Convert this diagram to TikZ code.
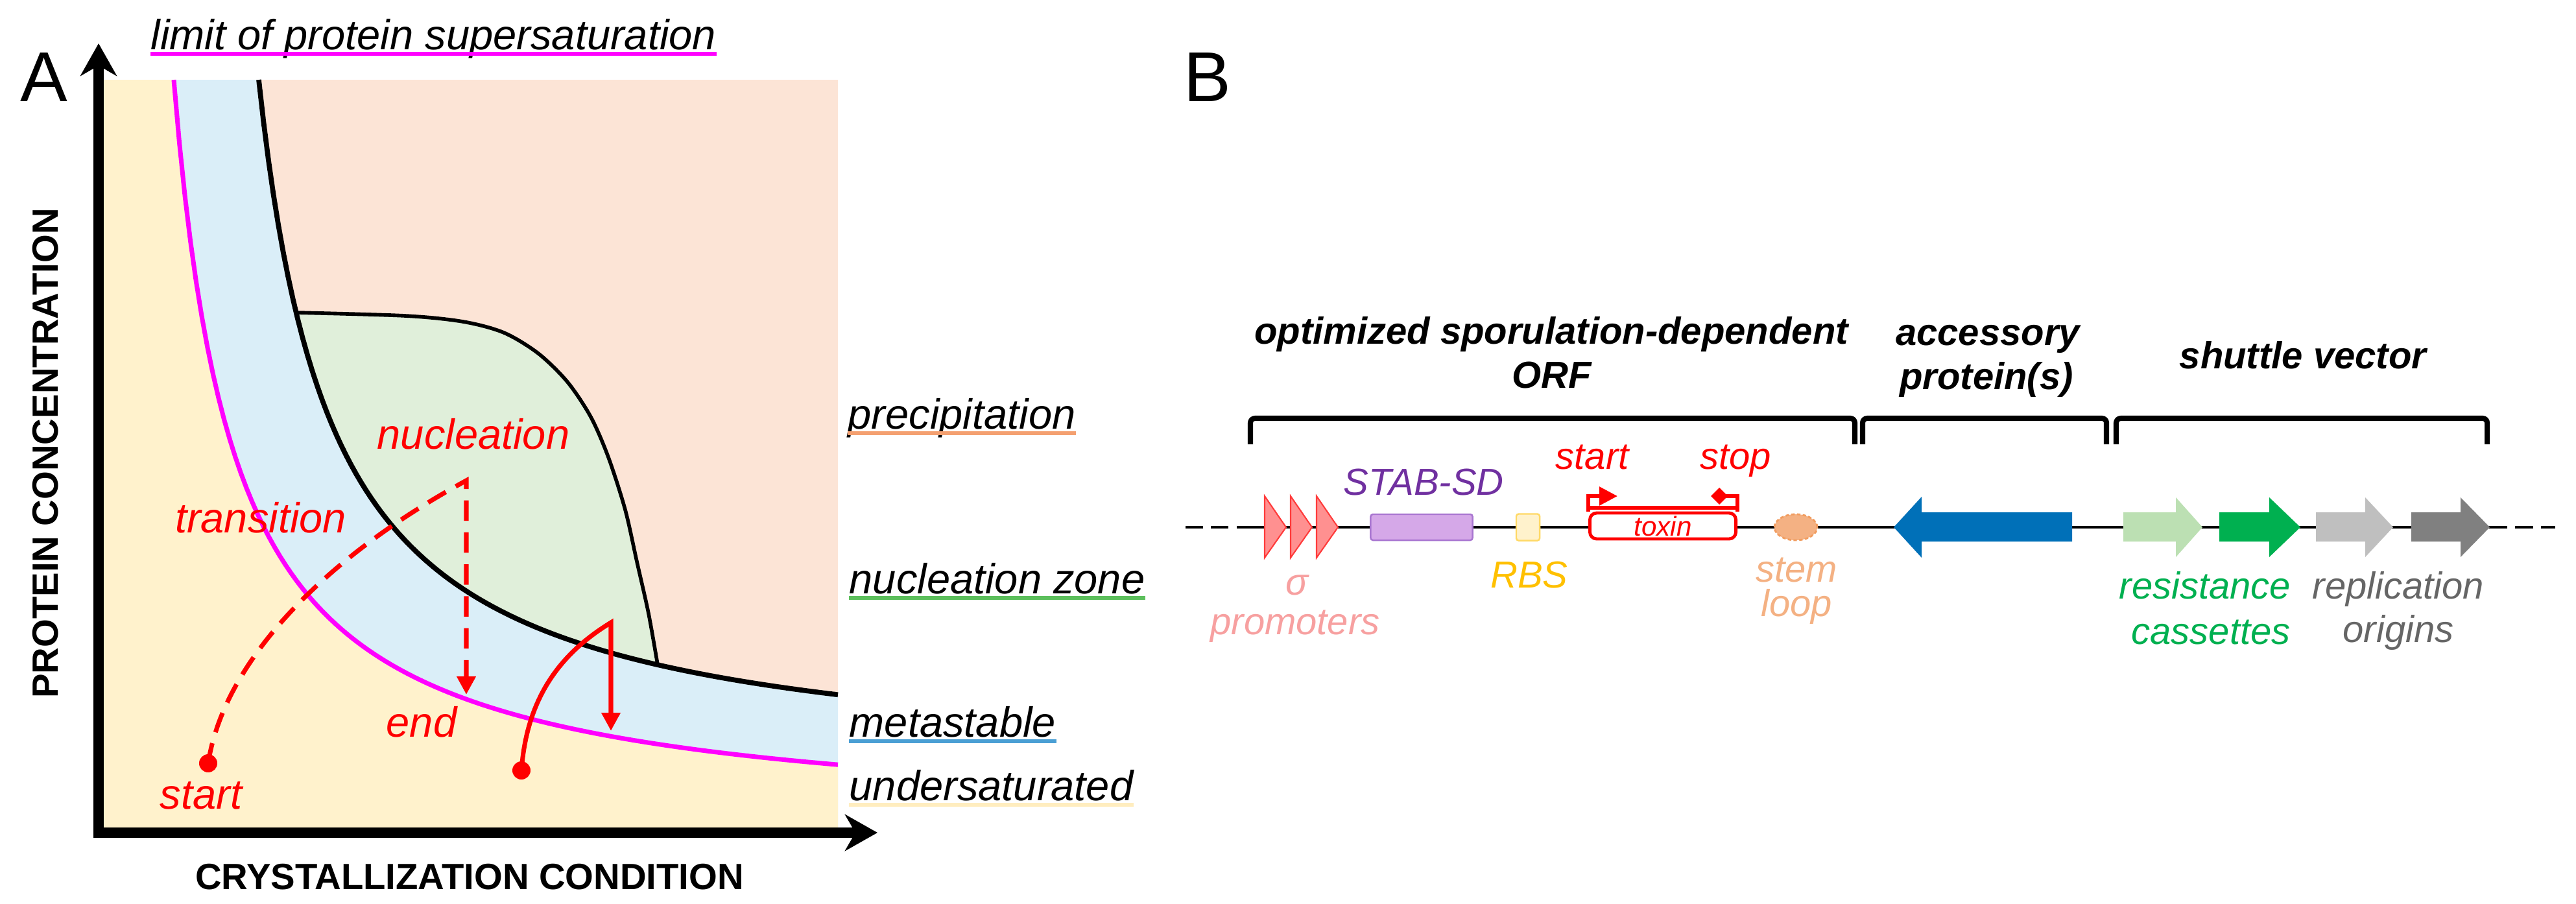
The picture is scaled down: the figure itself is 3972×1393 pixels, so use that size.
\documentclass[tikz,border=0pt]{standalone}
\usepackage{fontspec}
\setmainfont{Liberation Sans}
\usetikzlibrary{
    arrows.meta,
    calc,
    positioning,
    shapes.geometric
}

\definecolor{precfill}{HTML}{FCE4D6}
\definecolor{metafill}{HTML}{DAEEF8}
\definecolor{nuclfill}{HTML}{E0EFDA}
\definecolor{undfill}{HTML}{FFF2CC}
\definecolor{supmag}{HTML}{FF00FF}
\definecolor{precline}{HTML}{F4A070}
\definecolor{nuclline}{HTML}{5CBF5C}
\definecolor{metaline}{HTML}{4A9FD4}
\definecolor{undline}{HTML}{FFEDBF}
\definecolor{promcol}{HTML}{FF9090}
\definecolor{promedge}{HTML}{FF3B3B}
\definecolor{promtext}{HTML}{F7A0A0}
\definecolor{stabcol}{HTML}{D5A8E8}
\definecolor{stabedge}{HTML}{A875D0}
\definecolor{stabtext}{HTML}{7030A0}
\definecolor{rbsedge}{HTML}{FFD966}
\definecolor{rbstext}{HTML}{FFC000}
\definecolor{loopcol}{HTML}{F4B183}
\definecolor{loopedge}{HTML}{F19D60}
\definecolor{accblue}{HTML}{0070B8}
\definecolor{resA}{HTML}{BCE0B3}
\definecolor{resB}{HTML}{00B050}
\definecolor{oriA}{HTML}{BFBFBF}
\definecolor{oriB}{HTML}{808080}
\definecolor{oritext}{HTML}{666666}

\tikzset{
    zonelbl/.style={font=\fontsize{18.5}{20}\selectfont\itshape, inner sep=0pt, anchor=base west},
    pathlbl/.style={font=\fontsize{18.5}{20}\selectfont\itshape, text=red, inner sep=0pt, anchor=base},
    axislbl/.style={font=\fontsize{16}{18}\selectfont\bfseries, inner sep=0pt, anchor=base},
    panellbl/.style={font=\fontsize{31}{33}\selectfont, inner sep=0pt, anchor=base west},
    headlbl/.style={font=\fontsize{16.5}{18}\selectfont\bfseries\itshape, inner sep=0pt, anchor=base},
    partlbl/.style={font=\fontsize{16.5}{18}\selectfont\itshape, inner sep=0pt, anchor=base},
    uline/.style={line width=1.6pt},
    axisline/.style={line width=4.5pt, {Stealth[length=5mm,width=5.6mm,inset=1.6mm]}-{Stealth[length=5mm,width=5.6mm,inset=1.6mm]}},
    redpath/.style={red, line width=2pt, -{Triangle[length=2.8mm,width=2.8mm]}},
    rdot/.style={circle, fill=red, inner sep=0pt, minimum size=0.28cm},
    dnaline/.style={line width=1.3pt},
    dnadash/.style={line width=1.3pt, dash pattern=on 7.7pt off 3.5pt},
    brk/.style={line width=2.3pt, rounded corners=2pt},
    promoter/.style={fill=promcol, draw=promedge, line width=0.6pt},
    stabbox/.style={rectangle, rounded corners=1pt, fill=stabcol, draw=stabedge, line width=0.7pt, minimum width=1.57cm, minimum height=0.4cm, inner sep=0pt},
    rbsbox/.style={rectangle, rounded corners=1pt, fill=undfill, draw=rbsedge, line width=0.7pt, minimum width=0.36cm, minimum height=0.41cm, inner sep=0pt},
    toxbox/.style={rectangle, rounded corners=3pt, fill=white, draw=red, line width=1.4pt, minimum width=2.25cm, minimum height=0.4cm, inner sep=0pt, text=red, font=\fontsize{12}{13}\selectfont\itshape},
    redmark/.style={red, line width=1.6pt},
    loopmark/.style={ellipse, fill=loopcol, draw=loopedge, line width=0.8pt, dash pattern=on 1.5pt off 1pt, minimum width=0.66cm, minimum height=0.4cm, inner sep=0pt}
}

\begin{document}
\begin{tikzpicture}[x=0.01cm, y=-0.01cm]
    \useasboundingbox (0,0) rectangle (3972,1393);

    % panel A
    \fill[precfill] (152,123) rectangle (1292,1284);
    \fill[metafill] (152,123) -- plot[domain=399:1292,samples=120] (\x,{100*(11.923-12.19/(\x/100-2.85))}) -- (1292,1284) -- (152,1284) -- cycle;
    \fill[undfill] (152,123) -- plot[domain=268:1292,samples=120] (\x,{100*(12.751-10.7146/(\x/100-1.75))}) -- (1292,1284) -- (152,1284) -- cycle;
    \fill[nuclfill] plot[smooth] coordinates {(457,482) (625,487) (714,496) (777,513) (830,545) (875,589) (911,643) (938,705) (964,786) (982,866) (1000,946) (1014,1025)}
        -- plot[domain=1014:457,samples=60] (\x,{100*(11.923-12.19/(\x/100-2.85))}) -- cycle;
    \draw[line width=1.6pt] plot[smooth] coordinates {(457,482) (625,487) (714,496) (777,513) (830,545) (875,589) (911,643) (938,705) (964,786) (982,866) (1000,946) (1014,1025)};
    \draw[line width=2.2pt] plot[domain=399:1292,samples=120] (\x,{100*(11.923-12.19/(\x/100-2.85))});
    \draw[supmag, line width=2pt] plot[domain=268:1292,samples=120] (\x,{100*(12.751-10.7146/(\x/100-1.75))});

    \coordinate (ytip) at (152,67);
    \coordinate (origin) at (152,1284);
    \coordinate (xtip) at (1353,1284);
    \draw[axisline] (ytip) -- (origin) -- (xtip);

    \node[pathlbl] (nucl) at (730,692) {nucleation};
    \node[pathlbl] (trans) at (402,821) {transition};
    \node[pathlbl] (endl) at (650,1136) {end};
    \node[pathlbl] (startl) at (310,1247) {start};

    \node[rdot] (st1) at (321,1177) {};
    \node[rdot] (st2) at (804,1188) {};
    \coordinate (turn1) at (719,741);
    \coordinate (end1) at (719,1071);
    \coordinate (turn2) at (942,960);
    \coordinate (end2) at (942,1127);
    \draw[redpath, dash pattern=on 9pt off 5pt] (st1.center) .. controls (345,1020) and (500,860) .. (turn1) -- (end1);
    \draw[redpath] (st2.center) .. controls (812,1080) and (860,1010) .. (turn2) -- (end2);

    \node[zonelbl] (limit) at (232,76) {limit of protein supersaturation};
    \node[zonelbl] (prec) at (1307,661) {precipitation};
    \node[zonelbl] (nzone) at (1309,915) {nucleation zone};
    \node[zonelbl] (meta) at (1309,1136) {metastable};
    \node[zonelbl] (under) at (1309,1234) {undersaturated};
    \draw[uline, supmag] ([yshift=-2pt]limit.base west) -- ([yshift=-2pt]limit.base east);
    \draw[uline, precline] ([yshift=-2pt]prec.base west) -- ([yshift=-2pt]prec.base east);
    \draw[uline, nuclline] ([yshift=-2pt]nzone.base west) -- ([yshift=-2pt]nzone.base east);
    \draw[uline, metaline] ([yshift=-2pt]meta.base west) -- ([yshift=-2pt]meta.base east);
    \draw[uline, undline] ([yshift=-2pt]under.base west) -- ([yshift=-2pt]under.base east);

    \node[axislbl] (xlab) at (724,1371) {CRYSTALLIZATION CONDITION};
    \node[axislbl, rotate=90] (ylab) at (89,699) {PROTEIN CONCENTRATION};
    \node[panellbl] (pA) at (31,156) {A};

    % panel B
    \node[panellbl] (pB) at (1825,156) {B};
    \node[headlbl] (orf1) at (2392,530) {optimized sporulation-dependent};
    \node[headlbl] (orf2) at (2393,598) {ORF};
    \node[headlbl] (acc1) at (3065,532) {accessory};
    \node[headlbl] (acc2) at (3063,600) {protein(s)};
    \node[headlbl] (shut) at (3551,568) {shuttle vector};
    \foreach \a/\b in {1928/2860, 2872/3248, 3263/3835}
        \draw[brk] (\a,685) -- (\a,645) -- (\b,645) -- (\b,685);

    \coordinate (dnaL) at (1828,813);
    \coordinate (dnaS) at (1908,813);
    \coordinate (dnaE) at (3839,813);
    \coordinate (dnaR) at (3940,813);
    \draw[dnadash] (dnaL) -- (dnaS);
    \draw[dnaline] (dnaS) -- (dnaE);
    \draw[dnadash] (dnaE) -- (dnaR);

    \foreach \t in {1950,1990,2030}
        \filldraw[promoter] (\t,765) -- (\t+33,813) -- (\t,860) -- cycle;
    \node[stabbox] (stab) at (2192,813) {};
    \node[rbsbox] (rbs) at (2356,813) {};
    \node[toxbox] (tox) at (2564,811) {toxin};
    \node[loopmark] (loop) at (2769,813) {};
    \coordinate (startTip) at (2494,765);
    \coordinate (stopTip) at (2638,765);
    \draw[redmark] ([yshift=1.5pt]tox.north west) -- ([yshift=1.5pt]tox.north east);
    \draw[redmark, -{Triangle[length=2.8mm,width=2.8mm]}] (tox.north west) |- (startTip);
    \draw[redmark, -{Turned Square[length=2.6mm,width=2.6mm]}] (tox.north east) |- (stopTip);

    \fill[accblue] (3195,790) -- (2963,790) -- (2963,766) -- (2920,813) -- (2963,860) -- (2963,835) -- (3195,835) -- cycle;
    \foreach \a/\b/\c/\col in {3274/3355/3396/resA, 3422/3499/3547/resB, 3571/3647/3690/oriA, 3718/3794/3839/oriB}
        \fill[\col] (\a,790) -- (\b,790) -- (\b,767) -- (\c,813) -- (\b,859) -- (\b,835) -- (\a,835) -- cycle;

    \node[partlbl, text=stabtext] (stabl) at (2195,763) {STAB-SD};
    \node[partlbl, text=red] (startB) at (2455,723) {start};
    \node[partlbl, text=red] (stopB) at (2676,723) {stop};
    \node[partlbl, text=promtext] (sig) at (2000,917) {σ};
    \node[partlbl, text=promtext] (prom) at (1997,978) {promoters};
    \node[partlbl, text=rbstext] (rbsl) at (2358,906) {RBS};
    \node[partlbl, text=loopcol] (stem1) at (2770,897) {stem};
    \node[partlbl, text=loopcol] (stem2) at (2770,950) {loop};
    \node[partlbl, text=resB] (res1) at (3400,923) {resistance};
    \node[partlbl, text=resB] (res2) at (3409,993) {cassettes};
    \node[partlbl, text=oritext] (ori1) at (3698,923) {replication};
    \node[partlbl, text=oritext] (ori2) at (3698,990) {origins};
\end{tikzpicture}
\end{document}
